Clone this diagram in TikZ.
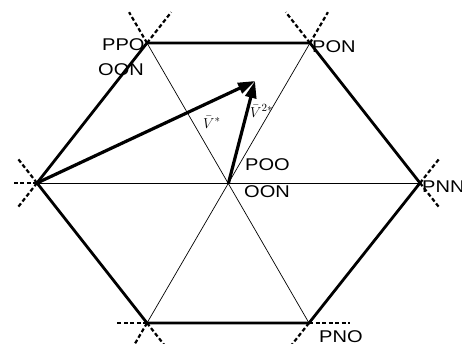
\documentclass[tikz,border=0pt]{standalone}
\usepackage{fontspec}
\setmainfont{Liberation Sans}
\usetikzlibrary{arrows.meta,calc}
\newcommand{\wlab}[1]{\scalebox{1.18}[1]{#1}}
\begin{document}
\begin{tikzpicture}[x=1pt,y=-1pt,
  edge/.style={line width=2.8pt, line join=miter},
  diag/.style={line width=0.7pt},
  ext/.style={line width=2.2pt, dash pattern=on 4pt off 2.5pt},
  vec/.style={line width=3.2pt, -{Triangle[length=17pt,width=11pt]}},
  lbl/.style={inner sep=0pt, anchor=base west, font=\fontsize{17}{17}\selectfont},
  vlbl/.style={inner sep=0pt, anchor=base west, font=\fontsize{15}{15}\selectfont}]
\useasboundingbox (0,0) rectangle (462,343);
\clip (0,0) rectangle (462,343);
\coordinate (C) at (228.5,183);
\coordinate (L) at (37,183);
\coordinate (R) at (420,183);
\coordinate (TL) at (147,43);
\coordinate (TR) at (310,43);
\coordinate (BL) at (147,323);
\coordinate (BR) at (309,323);
\coordinate (T) at (255,81);
% diagonals
\draw[diag] (L) -- (R);
\draw[diag] (TL) -- (BR);
\draw[diag] (TR) -- (BL);
% hexagon
\draw[edge] (L) -- (TL) -- (TR) -- (R) -- (BR) -- (BL) -- cycle;
% dashed extensions
\draw[ext] (TL) -- ($(C)!1.22!(TL)$);
\draw[ext] (TL) -- ($(L)!1.22!(TL)$);
\draw[ext] (TR) -- ($(R)!1.22!(TR)$);
\draw[ext] (TR) -- ($(C)!1.22!(TR)$);
\draw[ext] (L) -- ($(R)!1.065!(L)$);
\draw[ext] (L) -- ($(BL)!1.18!(L)$);
\draw[ext] (L) -- ($(TL)!1.18!(L)$);
\draw[ext] (R) -- ($(BR)!1.18!(R)$);
\draw[ext] (R) -- ($(TR)!1.18!(R)$);
\draw[ext] (BL) -- ($(BR)!1.19!(BL)$);
\draw[ext] (BL) -- ($(TR)!1.22!(BL)$);
\draw[ext] (BL) -- ($(L)!1.22!(BL)$);
\draw[ext] (BR) -- ($(BL)!1.25!(BR)$);
\draw[ext] (BR) -- ($(R)!1.22!(BR)$);
% vectors
\draw[vec] (L) -- (T);
\draw[vec] (C) -- (T);
% labels
\node[lbl] (ppo) at (102,50) {\wlab{PPO}};
\node[lbl] (oon1) at (98,75) {\wlab{OON}};
\node[lbl] (pon) at (312,52) {\wlab{PON}};
\node[lbl] (pnn) at (422,192) {\wlab{PNN}};
\node[lbl] (pno) at (319,342) {\wlab{PNO}};
\node[lbl] (poo) at (245,170) {\wlab{POO}};
\node[lbl] (oon2) at (244,197) {\wlab{OON}};
\node[vlbl] (v1) at (203,128) {$\bar{V}^{*}$};
\node[vlbl] (v2) at (250,117) {$\bar{V}^{2*}$};
\end{tikzpicture}
\end{document}
